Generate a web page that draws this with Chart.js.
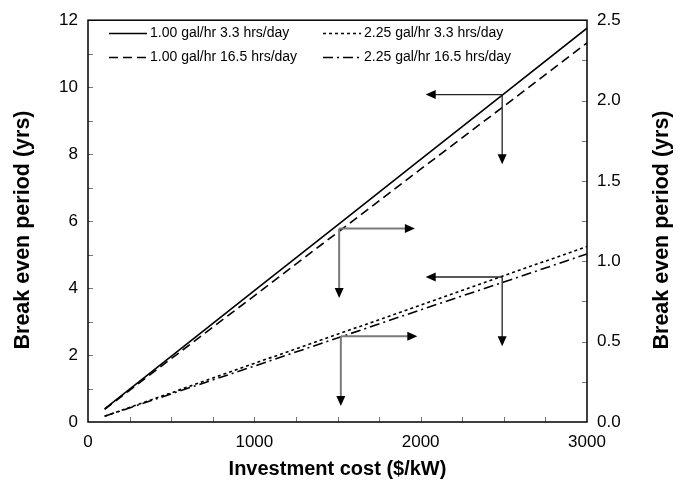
<!DOCTYPE html>
<html>
<head>
<meta charset="utf-8">
<script src="https://cdn.jsdelivr.net/npm/chart.js@4.4.0/dist/chart.umd.min.js"></script>
<style>
  html, body { margin: 0; padding: 0; background: #fff; }
  #wrap { width: 685px; height: 484px; }
</style>
</head>
<body>
<div id="wrap"><canvas id="c" width="685" height="484"></canvas></div>
<script>
// Investment cost ($/kW)
const investmentCost = [100, 500, 1000, 1500, 2000, 2500, 3000];

// Break even period (yrs) for each fuel rate / running time case
const gal100_h33  = [0.39, 1.96, 3.92, 5.88, 7.84, 9.80, 11.76];
const gal100_h165 = [0.38, 1.89, 3.77, 5.66, 7.55, 9.43, 11.32];
const gal225_h33  = [0.17, 0.87, 1.75, 2.62, 3.49, 4.37, 5.24];
const gal225_h165 = [0.17, 0.84, 1.67, 2.51, 3.35, 4.18, 5.02];

const seriesLabels = [
  '1.00 gal/hr 3.3 hrs/day',
  '1.00 gal/hr 16.5 hrs/day',
  '2.25 gal/hr 3.3 hrs/day',
  '2.25 gal/hr 16.5 hrs/day'
];

// Axis tick ranges
const xTicks = { min: 0, max: 3000, step: 250, labelEvery: 1000 };
const yLeftTicks = { min: 0, max: 12, step: 1, labelEvery: 2 };
const yRightTicks = { min: 0, max: 2.5, step: 0.25, labelEvery: 0.5 };

// Axis-reading arrows: corner on the curves, then horizontal and vertical legs
const axisArrows = [
  { x: 2490, y: 9.78, hx: 2030, vy: 7.70, tone: 'dark' },
  { x: 1510, y: 5.78, hx: 1965, vy: 3.70, tone: 'grey' },
  { x: 2490, y: 4.33, hx: 2030, vy: 2.26, tone: 'dark' },
  { x: 1520, y: 2.56, hx: 1980, vy: 0.48, tone: 'grey' }
];

const FONT = '"Liberation Sans", Arial, Helvetica, sans-serif';
Chart.defaults.font.family = FONT;
Chart.defaults.color = '#000';

const pts = arr => investmentCost.map((x, i) => ({ x, y: arr[i] }));
const isMultiple = (v, m) => Math.abs(v / m - Math.round(v / m)) < 1e-6;

const lineStyles = [[], [9, 5], [3, 3], [10, 4, 2, 4]];
const seriesValues = [gal100_h33, gal100_h165, gal225_h33, gal225_h165];

const datasets = seriesValues.map((vals, i) => ({
  label: seriesLabels[i],
  data: pts(vals),
  borderColor: '#000',
  borderWidth: 1.6,
  borderDash: lineStyles[i],
  pointRadius: 0,
  fill: false,
  tension: 0,
  yAxisID: 'y'
}));

function arrowHead(ctx, x, y, dir) {
  const L = 10, W = 4.5;
  ctx.beginPath();
  if (dir === 'left') { ctx.moveTo(x, y); ctx.lineTo(x + L, y - W); ctx.lineTo(x + L, y + W); }
  if (dir === 'right') { ctx.moveTo(x, y); ctx.lineTo(x - L, y - W); ctx.lineTo(x - L, y + W); }
  if (dir === 'down') { ctx.moveTo(x, y); ctx.lineTo(x - W, y - L); ctx.lineTo(x + W, y - L); }
  ctx.closePath();
  ctx.fillStyle = '#000';
  ctx.fill();
}

const decorations = {
  id: 'decorations',
  afterDatasetsDraw(chart) {
    const { ctx, chartArea: a, scales } = chart;
    const sx = scales.x, sy = scales.y, sy2 = scales.y2;
    ctx.save();

    // inward tick marks
    ctx.strokeStyle = '#777';
    ctx.lineWidth = 1;
    const T = 5;
    ctx.beginPath();
    sx.ticks.forEach(t => {
      const p = Math.round(sx.getPixelForValue(t.value)) + 0.5;
      if (t.value <= xTicks.min || t.value >= xTicks.max) return;
      ctx.moveTo(p, a.bottom); ctx.lineTo(p, a.bottom - T);
    });
    sy.ticks.forEach(t => {
      const p = Math.round(sy.getPixelForValue(t.value)) + 0.5;
      if (t.value <= yLeftTicks.min || t.value >= yLeftTicks.max) return;
      ctx.moveTo(a.left, p); ctx.lineTo(a.left + T, p);
    });
    sy2.ticks.forEach(t => {
      const p = Math.round(sy2.getPixelForValue(t.value)) + 0.5;
      if (t.value <= yRightTicks.min || t.value >= yRightTicks.max) return;
      ctx.moveTo(a.right, p); ctx.lineTo(a.right - T, p);
    });
    ctx.stroke();

    // plot frame
    ctx.strokeStyle = '#000';
    ctx.lineWidth = 1.5;
    ctx.strokeRect(a.left, a.top, a.right - a.left, a.bottom - a.top);

    // arrows
    axisArrows.forEach(ar => {
      const cx = sx.getPixelForValue(ar.x), cy = sy.getPixelForValue(ar.y);
      const hx = sx.getPixelForValue(ar.hx), vy = sy.getPixelForValue(ar.vy);
      ctx.strokeStyle = ar.tone === 'dark' ? '#222' : '#7a7a7a';
      ctx.lineWidth = ar.tone === 'dark' ? 1.3 : 2;
      const dirH = hx < cx ? 'left' : 'right';
      const hEnd = dirH === 'left' ? hx + 9 : hx - 9;
      ctx.beginPath();
      ctx.moveTo(cx, cy); ctx.lineTo(hEnd, cy);
      ctx.moveTo(cx, cy); ctx.lineTo(cx, vy - 9);
      ctx.stroke();
      arrowHead(ctx, hx, cy, dirH);
      arrowHead(ctx, cx, vy, 'down');
    });

    // legend (two columns)
    const legendPos = [[109, 33], [109, 57], [323, 33], [323, 57]];
    ctx.font = '14px ' + FONT;
    ctx.textBaseline = 'middle';
    ctx.textAlign = 'left';
    chart.data.datasets.forEach((ds, i) => {
      const [lx, ly] = legendPos[i];
      ctx.strokeStyle = '#000';
      ctx.lineWidth = 1.3;
      ctx.setLineDash(ds.borderDash);
      ctx.beginPath();
      ctx.moveTo(lx, ly + 0.5); ctx.lineTo(lx + 38, ly + 0.5);
      ctx.stroke();
      ctx.setLineDash([]);
      ctx.fillStyle = '#000';
      ctx.fillText(ds.label, lx + 41, ly);
    });

    // vertical axis titles (both read bottom to top)
    ctx.font = 'bold 21.5px ' + FONT;
    ctx.textAlign = 'center';
    ctx.textBaseline = 'alphabetic';
    [[29, 'Break even period (yrs)'], [668, 'Break even period (yrs)']].forEach(([tx, txt]) => {
      ctx.save();
      ctx.translate(tx, 230);
      ctx.rotate(-Math.PI / 2);
      ctx.fillText(txt, 0, 0);
      ctx.restore();
    });
    ctx.restore();
  }
};

new Chart(document.getElementById('c'), {
  type: 'line',
  data: { datasets },
  options: {
    responsive: false,
    animation: false,
    devicePixelRatio: 1,
    layout: { padding: { top: 17, left: 0, right: 0, bottom: 0 } },
    plugins: { legend: { display: false }, tooltip: { enabled: false } },
    scales: {
      x: {
        type: 'linear',
        min: xTicks.min, max: xTicks.max,
        afterFit: s => { s.height = 62; },
        ticks: {
          stepSize: xTicks.step, autoSkip: false, maxRotation: 0, padding: 10,
          font: { size: 17 }, color: '#000',
          callback: v => isMultiple(v, xTicks.labelEvery) ? String(v) : ''
        },
        grid: { drawOnChartArea: false, drawTicks: false },
        border: { display: false },
        title: {
          display: true, text: 'Investment cost ($/kW)',
          font: { size: 20, weight: 'bold' }, color: '#000',
          padding: { top: 0, bottom: 3 }
        }
      },
      y: {
        position: 'left',
        min: yLeftTicks.min, max: yLeftTicks.max,
        afterFit: s => { s.width = 88; },
        ticks: {
          stepSize: yLeftTicks.step, autoSkip: false, padding: 10,
          font: { size: 17 }, color: '#000',
          callback: v => isMultiple(v, yLeftTicks.labelEvery) ? String(v) : ''
        },
        grid: { drawOnChartArea: false, drawTicks: false },
        border: { display: false }
      },
      y2: {
        position: 'right',
        min: yRightTicks.min, max: yRightTicks.max,
        afterFit: s => { s.width = 98; },
        ticks: {
          stepSize: yRightTicks.step, autoSkip: false, padding: 10,
          font: { size: 17 }, color: '#000',
          callback: v => isMultiple(v, yRightTicks.labelEvery) ? v.toFixed(1) : ''
        },
        grid: { drawOnChartArea: false, drawTicks: false },
        border: { display: false }
      }
    }
  },
  plugins: [decorations]
});
</script>
</body>
</html>
